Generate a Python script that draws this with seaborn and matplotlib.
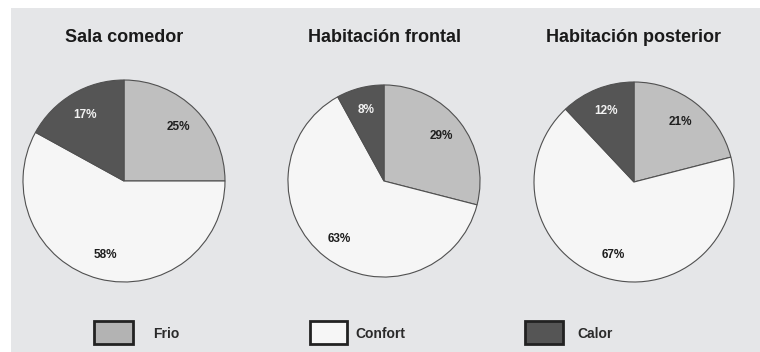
import matplotlib
matplotlib.use("Agg")
import matplotlib.pyplot as plt
from matplotlib.patches import Rectangle
import seaborn as sns

# Thermal comfort share per room
rooms = ["Sala comedor", "Habitación frontal", "Habitación posterior"]
categories = ["Frio", "Confort", "Calor"]
frio = [25, 29, 21]
confort = [58, 63, 67]
calor = [17, 8, 12]

sns.set_theme(style="white")
plt.rcParams["font.family"] = ["Liberation Sans", "DejaVu Sans"]

palette = sns.color_palette(["#bfbfbf", "#f6f6f6", "#555555"])
legend_fill = ["#b3b3b3", "#f6f6f6", "#555555"]
label_colors = ["#1e1e1e", "#1e1e1e", "#f2f2f2"]

W, H = 760, 352
fig = plt.figure(figsize=(W / 100, H / 100), dpi=100)
fig.patch.set_facecolor("white")

# grey panel behind everything
fig.patches.append(Rectangle((11 / W, 0), 1 - 11 / W, (H - 8) / H,
                             transform=fig.transFigure, facecolor="#e5e6e8",
                             edgecolor="none", zorder=-5))

# pie geometry in pixels: centre x, centre y (from top), radius
geom = [(124, 181, 102), (384, 181, 97), (634, 182, 101)]

for i, (room, (cx, cy, r)) in enumerate(zip(rooms, geom)):
    vals = [frio[i], confort[i], calor[i]]
    ax = fig.add_axes([(cx - r) / W, (H - cy - r) / H, 2 * r / W, 2 * r / H])
    wedges, texts, autotexts = ax.pie(
        vals, colors=palette, startangle=90, counterclock=False,
        autopct="%.0f%%", pctdistance=0.76,
        wedgeprops=dict(edgecolor="#505050", linewidth=0.8),
        textprops=dict(fontsize=8.5, fontweight="bold"))
    for t, c in zip(autotexts, label_colors):
        t.set_color(c)
    ax.set_xlim(-1.01, 1.01)
    ax.set_ylim(-1.01, 1.01)
    ax.set_aspect("equal")
    ax.patch.set_alpha(0)
    fig.text(cx / W, (H - 42) / H, room, ha="center", va="baseline",
             fontsize=13, fontweight="bold", color="#1a1a1a")

# legend row drawn in pixel coordinates
lax = fig.add_axes([0, 0, 1, 1])
lax.set_xlim(0, W)
lax.set_ylim(H, 0)
lax.axis("off")
boxes = [(94, 39), (310, 37), (525, 38)]
text_x = [153, 355, 577]
for (bx, bw), tx, name, fc in zip(boxes, text_x, categories, legend_fill):
    lax.add_patch(Rectangle((bx, 321), bw, 23, facecolor=fc,
                            edgecolor="#222222", linewidth=2))
    lax.text(tx, 338, name, ha="left", va="baseline", fontsize=10,
             fontweight="bold", color="#2a2a2a")

fig.savefig("out.png", dpi=100)
